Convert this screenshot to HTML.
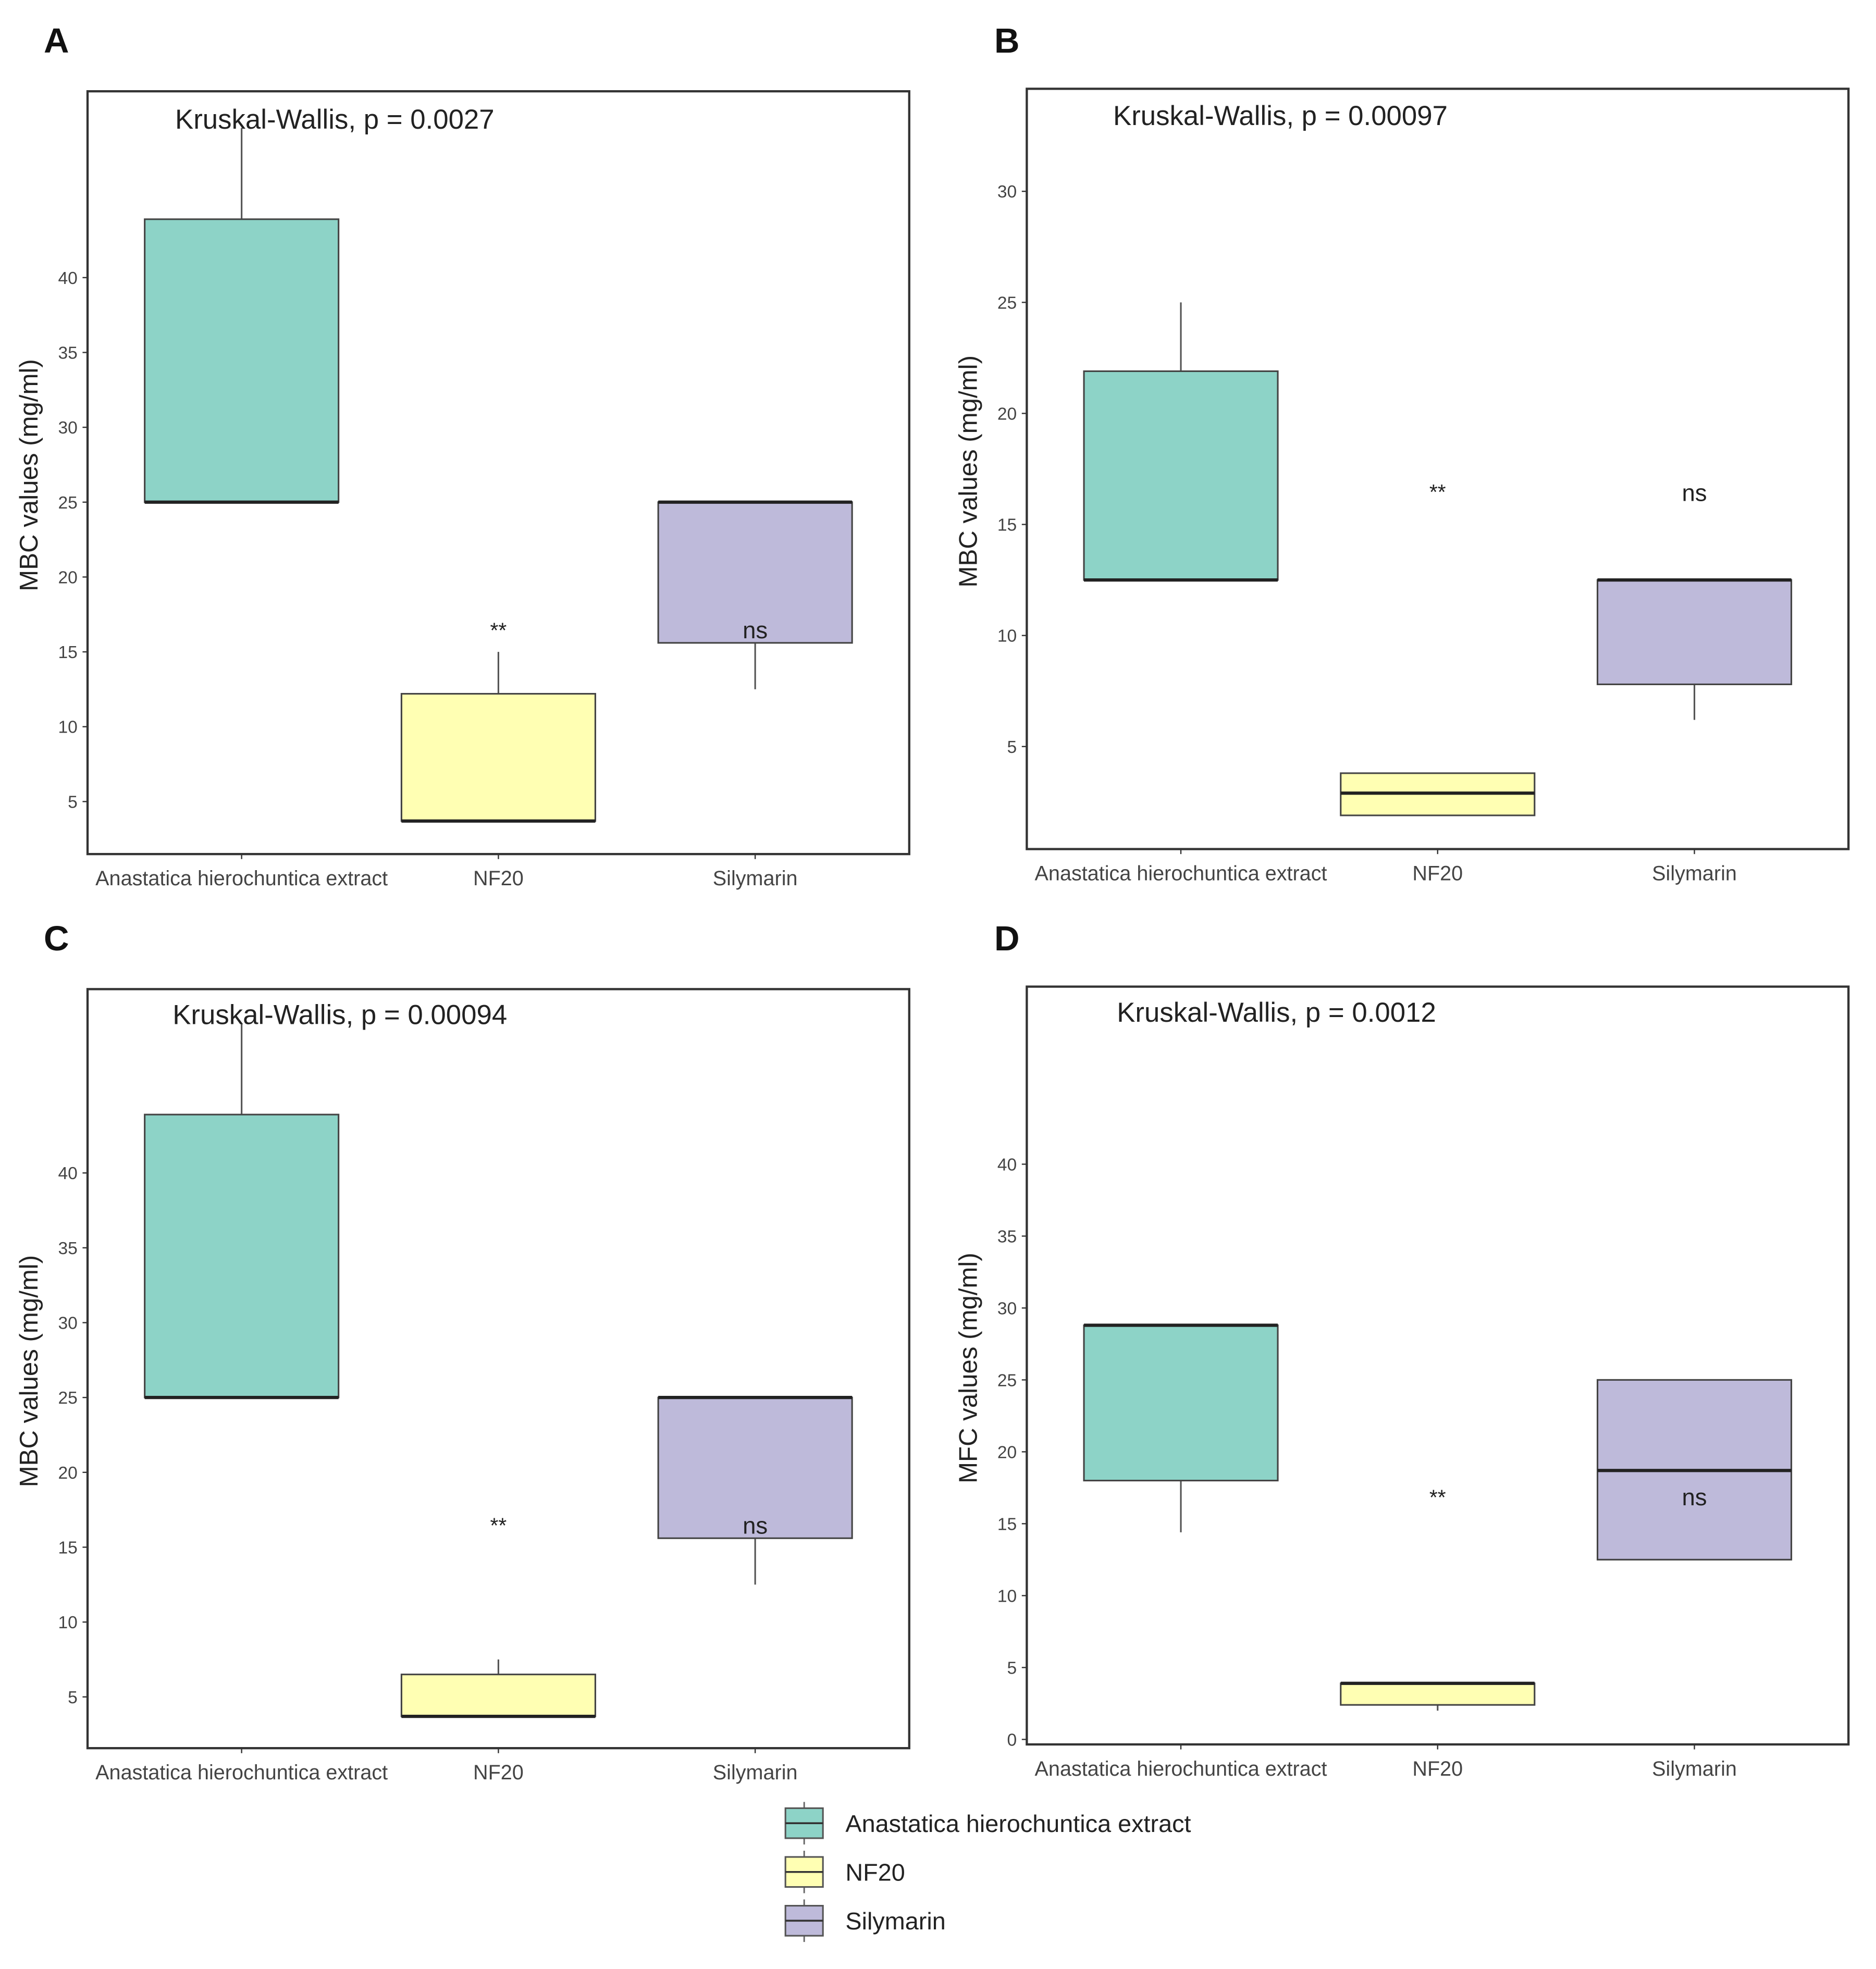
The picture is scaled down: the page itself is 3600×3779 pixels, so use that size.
<!DOCTYPE html>
<html><head><meta charset="utf-8"><style>
html,body{margin:0;padding:0;background:#fff;}
svg{display:block;font-family:"Liberation Sans",Arial,sans-serif;}
</style></head><body>
<svg id="fig" width="3600" height="3779" viewBox="0 0 1500 1574.6" xmlns="http://www.w3.org/2000/svg"></svg>
<script>
const categories = ["Anastatica hierochuntica extract","NF20","Silymarin"];
const colors = ["#8dd3c7","#ffffb3","#bebada"];
// per-panel box stats: [whiskerLow, q1, median, q3, whiskerHigh]
const statsA = [[25,25,25,43.9,50],[3.7,3.7,3.7,12.2,15],[12.5,15.6,25,25,25]];
const statsB = [[12.5,12.5,12.5,21.9,25],[1.9,1.9,2.9,3.8,3.8],[6.2,7.8,12.5,12.5,12.5]];
const statsC = [[25,25,25,43.9,50],[3.7,3.7,3.7,6.5,7.5],[12.5,15.6,25,25,25]];
const statsD = [[14.4,18,28.8,28.8,28.8],[2,2.4,3.9,3.9,3.9],[12.5,12.5,18.7,25,25]];
const ticksA = [5,10,15,20,25,30,35,40];
const ticksB = [5,10,15,20,25,30];
const ticksC = [5,10,15,20,25,30,35,40];
const ticksD = [0,5,10,15,20,25,30,35,40];
const sigLabels = ["","**","ns"];
const sigValuesA = [null,16.8,16.4];
const sigValuesB = [null,16.7,16.4];
const sigValuesC = [null,16.8,16.4];
const sigValuesD = [null,17.2,16.8];
const pvalues = ["Kruskal-Wallis, p = 0.0027","Kruskal-Wallis, p = 0.00097","Kruskal-Wallis, p = 0.00094","Kruskal-Wallis, p = 0.0012"];
const yTitles = ["MBC values (mg/ml)","MBC values (mg/ml)","MBC values (mg/ml)","MFC values (mg/ml)"];

const NS="http://www.w3.org/2000/svg";
const svg=document.getElementById('fig');
function mk(tag,attrs,parent){const e=document.createElementNS(NS,tag);for(const k in attrs)e.setAttribute(k,attrs[k]);(parent||svg).appendChild(e);return e;}

const panels=[
 {letter:"A",lx:35,ly:42,x0:70,x1:727,y0:73,y1:683,v0:5,py0:641,v1:40,py1:222,stats:statsA,ticks:ticksA,sig:sigValuesA,kx:140,ky:103},
 {letter:"B",lx:795,ly:42,x0:821,x1:1478,y0:71,y1:679,v0:5,py0:597,v1:30,py1:153,stats:statsB,ticks:ticksB,sig:sigValuesB,kx:890,ky:100},
 {letter:"C",lx:35,ly:760,x0:70,x1:727,y0:791,y1:1398,v0:5,py0:1357,v1:40,py1:938,stats:statsC,ticks:ticksC,sig:sigValuesC,kx:138,ky:819},
 {letter:"D",lx:795,ly:760,x0:821,x1:1478,y0:789,y1:1395,v0:0,py0:1391,v1:40,py1:931,stats:statsD,ticks:ticksD,sig:sigValuesD,kx:893,ky:817}
];
panels.forEach((p,pi)=>{
  const g=mk('g',{});
  
  
  const y=v=>p.py0+(v-p.v0)*(p.py1-p.py0)/(p.v1-p.v0);
  const step=(p.x1-p.x0)/3.2;
  const cx=i=>p.x0+step*(0.6+i);
  const bw=155;
  const L=mk('text',{x:p.lx,y:p.ly,'font-size':28,'font-weight':'bold',fill:'#111'},g);L.textContent=p.letter;
  
  p.stats.forEach((s,i)=>{
    const bg=mk('g',{},g);
    
    
    mk('line',{x1:cx(i),x2:cx(i),y1:y(s[0]),y2:y(s[1]),stroke:'#555','stroke-width':1.3},bg);
    mk('line',{x1:cx(i),x2:cx(i),y1:y(s[3]),y2:y(s[4]),stroke:'#555','stroke-width':1.3},bg);
    mk('rect',{x:cx(i)-bw/2,y:y(s[3]),width:bw,height:Math.max(y(s[1])-y(s[3]),0.5),fill:colors[i],stroke:'#444','stroke-width':1.3},bg);
    mk('line',{x1:cx(i)-bw/2,x2:cx(i)+bw/2,y1:y(s[2]),y2:y(s[2]),stroke:'#222','stroke-width':2.6},bg);
  });
  const fr=mk('rect',{x:p.x0,y:p.y0,width:p.x1-p.x0,height:p.y1-p.y0,fill:'none',stroke:'#333','stroke-width':1.8},g);
  
  p.ticks.forEach(t=>{
    mk('line',{x1:p.x0-4,x2:p.x0,y1:y(t),y2:y(t),stroke:'#333','stroke-width':1},g);
    const tx=mk('text',{x:p.x0-8,y:y(t)+5,'font-size':14,'text-anchor':'end',fill:'#444'},g);tx.textContent=t;
    
  });
  categories.forEach((c,i)=>{
    mk('line',{x1:cx(i),x2:cx(i),y1:p.y1,y2:p.y1+4,stroke:'#333','stroke-width':1},g);
    const tx=mk('text',{x:cx(i),y:p.y1+25,'font-size':16.5,'text-anchor':'middle',fill:'#444'},g);tx.textContent=c;
    
    if(sigLabels[i]){
      const st=mk('text',{x:cx(i),y:y(p.sig[i])+ (sigLabels[i]=='**'?10:6),'font-size':sigLabels[i]=='**'?17:19,'text-anchor':'middle',fill:'#222'},g);st.textContent=sigLabels[i];
      
    }
  });
  const yt=mk('text',{x:0,y:0,'font-size':20.5,'text-anchor':'middle',fill:'#222',transform:`translate(${p.x0-40},${(p.y0+p.y1)/2+2}) rotate(-90)`},g);yt.textContent=yTitles[pi];
  
  const kt=mk('text',{x:p.kx,y:p.ky,'font-size':22,fill:'#222'},g);kt.textContent=pvalues[pi];
  
});
const lg=mk('g',{});


const legY=[1458,1497,1536];
categories.forEach((c,i)=>{
  const e=mk('g',{},lg);
  
  
  mk('line',{x1:643,x2:643,y1:legY[i]-17,y2:legY[i]+17,stroke:'#666','stroke-width':1.2},e);
  mk('rect',{x:628,y:legY[i]-12,width:30,height:24,fill:colors[i],stroke:'#555','stroke-width':1.3},e);
  mk('line',{x1:628,x2:658,y1:legY[i],y2:legY[i],stroke:'#333','stroke-width':1.5},e);
  const t=mk('text',{x:676,y:legY[i]+7,'font-size':19.5,fill:'#222'},e);t.textContent=c;
});
</script>
</body></html>
